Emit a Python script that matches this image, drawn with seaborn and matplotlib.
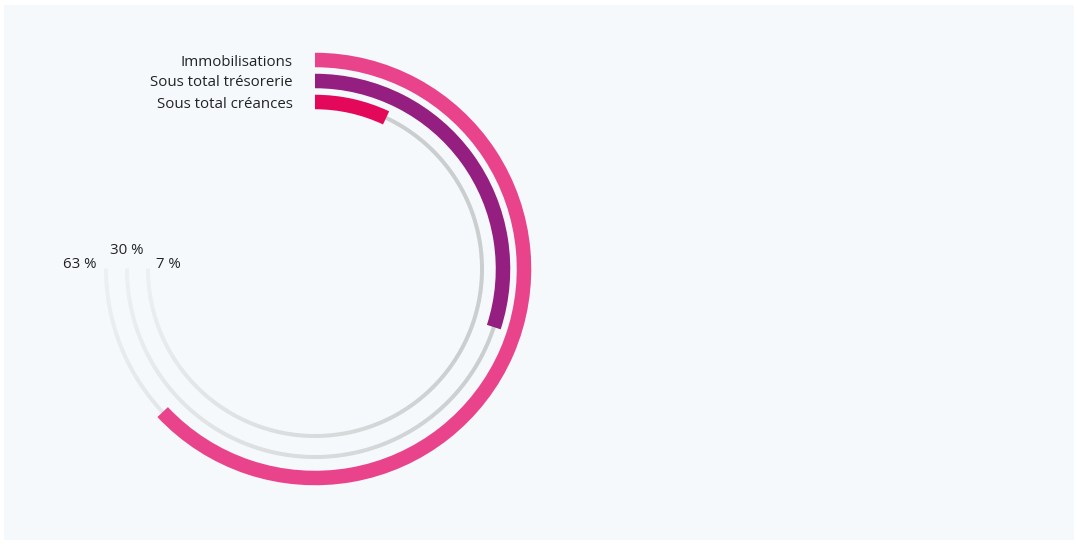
import numpy as np
import matplotlib
matplotlib.use("Agg")
import matplotlib.pyplot as plt
import matplotlib.colors as mcolors
import seaborn as sns

# data
categories = ["Immobilisations", "Sous total trésorerie", "Sous total créances"]
values = [63, 30, 7]
pct_labels = ["63 %", "30 %", "7 %"]
colors = ["#E9448B", "#951F80", "#E4085B"]

sns.set_theme(style="white")
plt.rcParams["font.family"] = ["Open Sans", "DejaVu Sans"]

W, H = 1077, 544
fig = plt.figure(figsize=(W / 100, H / 100), dpi=100, facecolor="white")

# panel background
bg = fig.add_axes([4 / W, 4 / H, 1070 / W, 535 / H], zorder=0)
bg.set_facecolor("#F5F9FC")
bg.set_xticks([])
bg.set_yticks([])
for s in bg.spines.values():
    s.set_visible(False)

# polar axes, 1 data unit = 1 px
R = 240
cx, cy = 315, H - 269
ax = fig.add_axes([(cx - R) / W, (cy - R) / H, 2 * R / W, 2 * R / H],
                  projection="polar", zorder=2)
ax.set_facecolor("none")
ax.patch.set_alpha(0)
ax.set_theta_zero_location("N")
ax.set_theta_direction(-1)
ax.set_ylim(0, R)
ax.grid(False)
ax.set_xticks([])
ax.set_yticks([])
ax.spines["polar"].set_visible(False)

radii = [209, 188, 167]
bar_h = 14.5
track_max = 0.75 * 2 * np.pi

# grey tracks with fade towards the end
c0 = np.array(mcolors.to_rgb("#CBCECF"))
c1 = np.array(mcolors.to_rgb("#EEF1F3"))
n = 120
edges = np.linspace(0, track_max, n + 1)
for r in radii:
    for i in range(n):
        t = max(0.0, (i / n - 0.45) / 0.55)
        col = c0 * (1 - t) + c1 * t
        ax.bar(edges[i], 4, width=edges[i + 1] - edges[i] + 0.002, bottom=r - 2,
               color=col, edgecolor="none", align="edge", zorder=1)

# value bars
for r, v, col in zip(radii, values, colors):
    ax.bar(0, bar_h, width=v / 100 * 2 * np.pi, bottom=r - bar_h / 2, color=col,
           edgecolor="none", align="edge", zorder=2)

# category labels
for r, name in zip(radii, categories):
    ax.annotate(name, xy=(0, r), xytext=(-22, -2), textcoords="offset pixels",
                ha="right", va="center", fontsize=10.8, color="#222222")

# percentage labels at track ends
offsets = [(-26, 4), (0, 19), (20, 4)]
for r, lab, off in zip(radii, pct_labels, offsets):
    ax.annotate(lab, xy=(track_max, r), xytext=off, textcoords="offset pixels",
                ha="center", va="center", fontsize=10.8, color="#222222")

fig.savefig("out.png", dpi=100, facecolor="white")
